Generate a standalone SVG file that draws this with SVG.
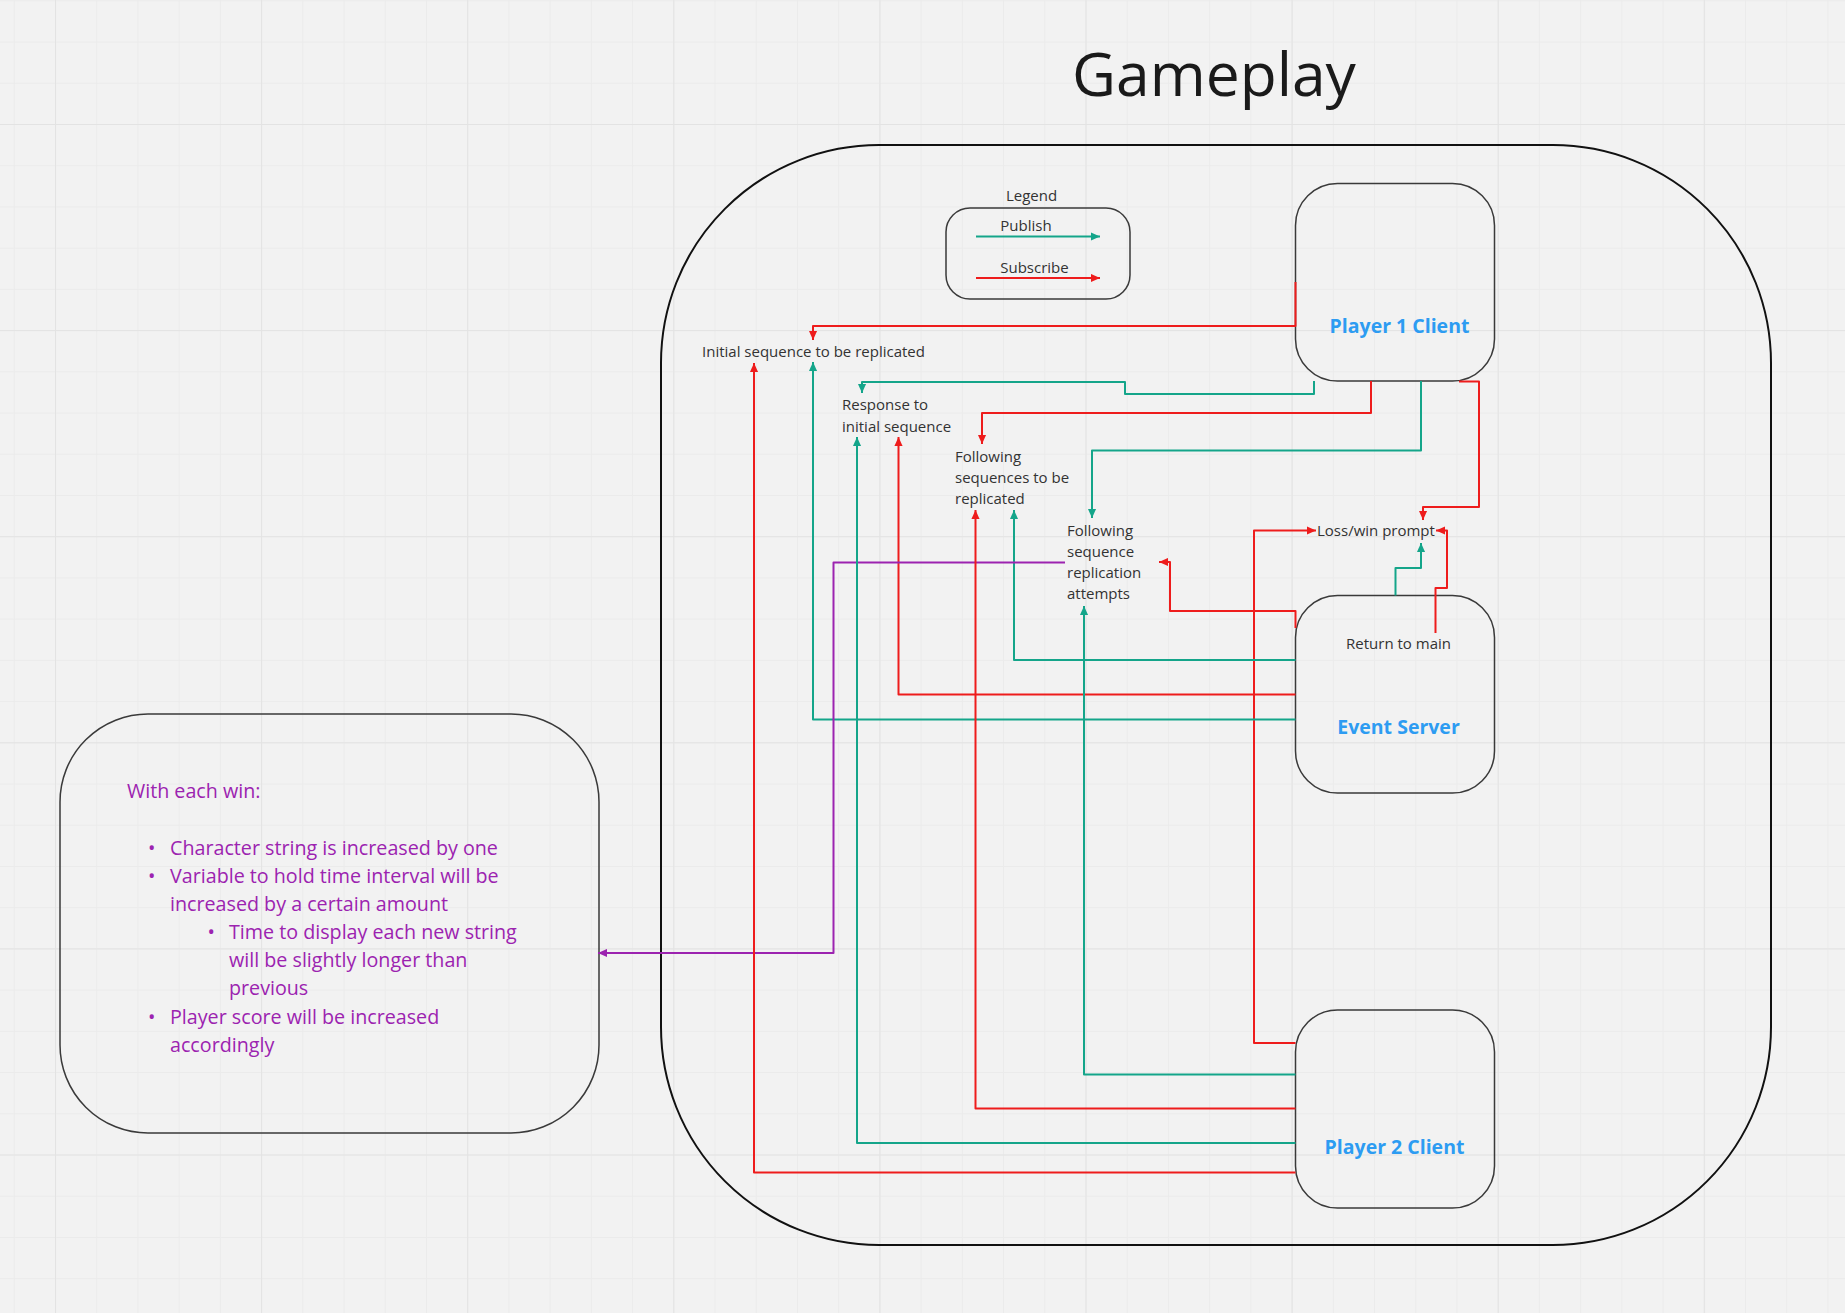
<svg xmlns="http://www.w3.org/2000/svg" width="1845" height="1313" viewBox="0 0 1845 1313">
<defs>
<pattern id="minor" x="55" y="124" width="41.22" height="41.22" patternUnits="userSpaceOnUse">
<path d="M0.5,0 V41.22 M0,0.5 H41.22" stroke="#ebebeb" stroke-width="1" fill="none"/>
</pattern>
<pattern id="major" x="55" y="124" width="206.1" height="206.1" patternUnits="userSpaceOnUse">
<path d="M0.5,0 V206.1 M0,0.5 H206.1" stroke="#e3e3e3" stroke-width="1.2" fill="none"/>
</pattern>
<marker id="ag" viewBox="0 0 10 10" refX="10" refY="5" markerWidth="9" markerHeight="9" markerUnits="userSpaceOnUse" orient="auto"><path d="M0,0.5 L10,5 L0,9.5 z" fill="#14a58a"/></marker>
<marker id="ar" viewBox="0 0 10 10" refX="10" refY="5" markerWidth="9" markerHeight="9" markerUnits="userSpaceOnUse" orient="auto"><path d="M0,0.5 L10,5 L0,9.5 z" fill="#ee1c1c"/></marker>
<marker id="ap" viewBox="0 0 10 10" refX="10" refY="5" markerWidth="9" markerHeight="9" markerUnits="userSpaceOnUse" orient="auto"><path d="M0,0.5 L10,5 L0,9.5 z" fill="#9c23b0"/></marker>
</defs>
<style>
.node{fill:none;stroke:#3a3a3a;stroke-width:1.5}
.lbl{font-family:"Open Sans","Noto Sans",sans-serif;font-size:15px;fill:#333}
.big{font-family:"Open Sans","Noto Sans",sans-serif;font-size:19.5px;font-weight:bold;fill:#2d9cf2;text-anchor:middle}
.pur{font-family:"Open Sans","Noto Sans",sans-serif;font-size:19.7px;fill:#9c23b0}
.c{fill:none;stroke-width:2;stroke-linejoin:round}
.g{stroke:#14a58a;marker-end:url(#ag)}
.r{stroke:#ee1c1c;marker-end:url(#ar)}
.p{stroke:#9c23b0;marker-end:url(#ap)}
</style>
<rect width="1845" height="1313" fill="#f2f2f2"/>
<rect width="1845" height="1313" fill="url(#minor)"/>
<rect width="1845" height="1313" fill="url(#major)"/>

<text x="1214" y="96" font-family="'Open Sans','Noto Sans',sans-serif" font-size="60.5" fill="#1a1a1a" text-anchor="middle">Gameplay</text>

<g id="gameplay-frame">
<rect x="661" y="145" width="1110" height="1100" rx="218" ry="218" fill="none" stroke="#111" stroke-width="2"/>
</g>

<g id="legend">
<rect class="node" x="946" y="208" width="184" height="91" rx="24" ry="24"/>
<text class="lbl" x="1031.5" y="201" text-anchor="middle">Legend</text>
<text class="lbl" x="1026" y="231" text-anchor="middle">Publish</text>
<text class="lbl" x="1034.5" y="273" text-anchor="middle">Subscribe</text>
<path class="c g" d="M976,236.5 H1100"/>
<path class="c r" d="M976,278 H1100"/>
</g>

<g id="player1">
<rect class="node" x="1295.5" y="183.5" width="199" height="197.5" rx="42" ry="42"/>
<text class="big" x="1399.5" y="333">Player 1 Client</text>
</g>

<g id="event-server">
<rect class="node" x="1295.5" y="595.5" width="199" height="197.5" rx="42" ry="42"/>
<text class="lbl" x="1398.5" y="649" text-anchor="middle">Return to main</text>
<text class="big" x="1398.5" y="734">Event Server</text>
</g>

<g id="player2">
<rect class="node" x="1295.5" y="1010" width="199" height="198" rx="42" ry="42"/>
<text class="big" x="1394.5" y="1154">Player 2 Client</text>
</g>

<g id="label-initial">
<text class="lbl" x="702" y="356.5">Initial sequence to be replicated</text>
</g>
<g id="label-response">
<text class="lbl" x="842" y="410">Response to</text>
<text class="lbl" x="842" y="431.5">initial sequence</text>
</g>
<g id="label-following">
<text class="lbl" x="955" y="461.5">Following</text>
<text class="lbl" x="955" y="482.5">sequences to be</text>
<text class="lbl" x="955" y="503.5">replicated</text>
</g>
<g id="label-attempts">
<text class="lbl" x="1067" y="536">Following</text>
<text class="lbl" x="1067" y="557">sequence</text>
<text class="lbl" x="1067" y="578">replication</text>
<text class="lbl" x="1067" y="599">attempts</text>
</g>
<g id="label-losswin">
<text class="lbl" x="1317" y="536">Loss/win prompt</text>
</g>

<g id="win-notes">
<rect class="node" x="60" y="714" width="539" height="419" rx="88" ry="88"/>
<text class="pur" x="127" y="798">With each win:</text>
<text class="pur" x="148" y="855">•</text>
<text class="pur" x="170" y="855">Character string is increased by one</text>
<text class="pur" x="148" y="883">•</text>
<text class="pur" x="170" y="883">Variable to hold time interval will be</text>
<text class="pur" x="170" y="911">increased by a certain amount</text>
<text class="pur" x="207.5" y="939">•</text>
<text class="pur" x="229" y="939">Time to display each new string</text>
<text class="pur" x="229" y="967">will be slightly longer than</text>
<text class="pur" x="229" y="995">previous</text>
<text class="pur" x="148" y="1023.5">•</text>
<text class="pur" x="170" y="1023.5">Player score will be increased</text>
<text class="pur" x="170" y="1052">accordingly</text>
</g>

<g id="connectors">
<path class="c r" d="M1295.5,282 V326 H813 V340"/>
<path class="c g" d="M1314,381 V394 H1125 V382 H862 V393"/>
<path class="c r" d="M1371,381 V413 H982 V444"/>
<path class="c g" d="M1421,381 V450.5 H1092 V518"/>
<path class="c r" d="M1459,381.5 H1479 V507 H1423 V520"/>
<path class="c r" d="M1295.5,1043 H1254 V530.5 H1316"/>
<path class="c g" d="M1395.5,595.5 V568 H1421 V543"/>
<path class="c r" d="M1435.5,633 V588 H1447 V530.5 H1436"/>
<path class="c r" d="M1295.5,628 V611 H1170 V562 H1159"/>
<path class="c g" d="M1295.5,660 H1014 V510"/>
<path class="c r" d="M1295.5,694.5 H898.5 V437"/>
<path class="c g" d="M1295.5,719.5 H813 V362"/>
<path class="c p" d="M1065,562.5 H833.5 V953 H598"/>
<path class="c g" d="M1295.5,1074.5 H1084 V606"/>
<path class="c r" d="M1295.5,1108.5 H975.5 V510"/>
<path class="c g" d="M1295.5,1143 H857 V437"/>
<path class="c r" d="M1295.5,1172.5 H754 V363"/>
</g>
</svg>
